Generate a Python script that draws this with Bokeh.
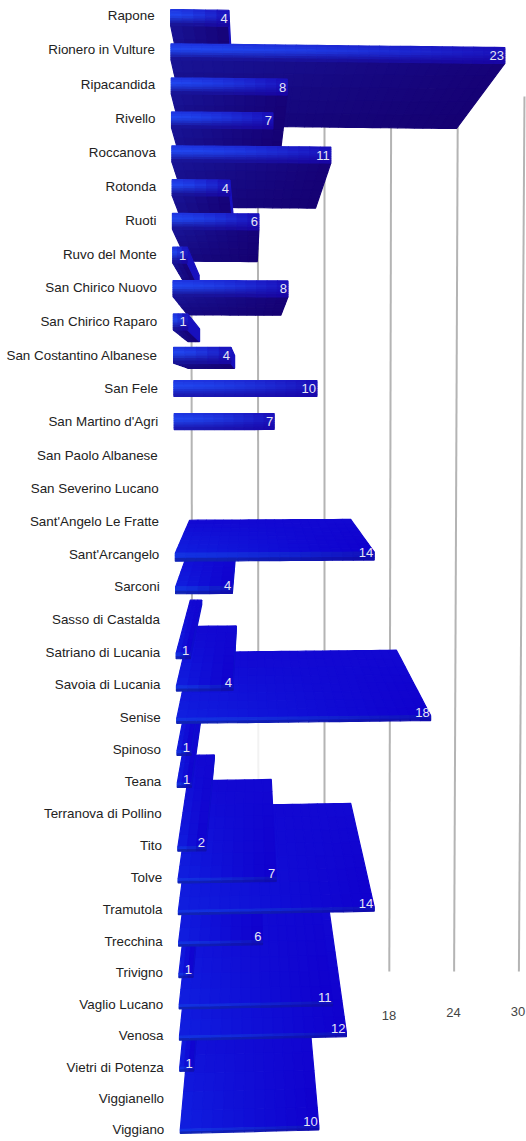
import numpy as np
from bokeh.plotting import figure
from bokeh.models import Range1d
from bokeh.core.properties import value
from bokeh.embed import file_html
from bokeh.resources import INLINE

categories = ["Rapone","Rionero in Vulture","Ripacandida","Rivello","Roccanova","Rotonda","Ruoti",
 "Ruvo del Monte","San Chirico Nuovo","San Chirico Raparo","San Costantino Albanese","San Fele",
 "San Martino d'Agri","San Paolo Albanese","San Severino Lucano","Sant'Angelo Le Fratte",
 "Sant'Arcangelo","Sarconi","Sasso di Castalda","Satriano di Lucania","Savoia di Lucania","Senise",
 "Spinoso","Teana","Terranova di Pollino","Tito","Tolve","Tramutola","Trecchina","Trivigno",
 "Vaglio Lucano","Venosa","Vietri di Potenza","Viggianello","Viggiano"]
values = [4,23,8,7,11,4,6,1,8,1,4,10,7,0,0,0,14,4,0,1,4,18,1,1,0,2,7,14,6,1,11,12,1,0,10]
grid_ticks = [0,6,12,18,24,30]
tick_labels = ["18","24","30"]

W, H = 526, 1141
VX, VY = 250.0, 388.0
SX, SY = 0.81, 0.80

def row_y(i):
    return 15 + 34.456*i - 0.0498*i*i
def bar_center(y):
    return y + (388 - y)*0.0055
def x_left(y):
    return 170 + y*0.0087
def k_val(y):
    return 14.55 - 0.7*y/1130
def front_h(y):
    return 16.0 if y < 430 else 4 + 12*np.exp(-(y-430)/110)
def tilt(x, x0, y):
    return (388 - y)*(x - x0)/30000
def back(pt):
    return (VX + SX*(pt[0]-VX), VY + SY*(pt[1]-VY))

def mix(a, b, t):
    t = min(1, max(0, t))
    return tuple(a[j] + (b[j]-a[j])*t for j in range(3))
def hexc(c):
    return "#%02x%02x%02x" % tuple(int(round(x)) for x in c)

def front_col(u, v, y):
    if y < 500:
        if v < .4:
            c = mix((30,50,222), (32,72,240), v/.4)
        else:
            c = mix((32,72,240), (24,14,140) if y < 380 else (26,20,170), (v-.4)/.6)
        return mix(c, (24,0,170), (u**1.6)*.75)
    c = mix((18,50,226), (14,24,150), max(0,(v-.6)/.4))
    return mix(c, (16,0,170), (u**1.4)*.7)
def under_col(u, v):
    return mix(mix((24,20,150), (22,2,120), u), (20,0,110), v*.6)
def top_col(u, v, y):
    base = mix((16,32,224), (16,0,205), u**.9)
    return mix(base, (18,8,210), 1-v)

grid_xs, grid_ys = [], []
for t in grid_ticks:
    xb = 324 + (t-12)*(10.8 if t > 12 else 11.0)
    xt = 324 + (t-12)*11.11
    grid_xs.append([xt, xb]); grid_ys.append([96, 971])

p = figure(width=W, height=H, x_range=Range1d(0, W), y_range=Range1d(H, 0),
           output_backend="svg", toolbar_location=None, min_border=0,
           outline_line_color=None, background_fill_color="white")
p.xaxis.visible = False
p.yaxis.visible = False
p.grid.visible = False

p.multi_line(grid_xs, grid_ys, line_color="#b4b4b4", line_width=2)
# soft smudge over the gridline
p.ellipse([258],[752],width=70,height=75,color="white",alpha=.82)

tl_x = [324+(float(s)-12)*10.75 for s in tick_labels]
p.text(tl_x, [1015,1012,1011], text=tick_labels, text_font=value("Liberation Sans"), text_font_size="13px",
       text_color="#444444", text_align="center", text_baseline="middle")

def cells(P, nx, ny, colf):
    """P = TL,TR,BR,BL quad; slice it into shaded cells."""
    tl,tr,br,bl = [np.array(q,float) for q in P]
    xs, ys, cs = [], [], []
    for a in range(nx):
        for b in range(ny):
            u0,u1 = a/nx,(a+1)/nx
            v0,v1 = b/ny,(b+1)/ny
            f = lambda u,v: (1-v)*((1-u)*tl+u*tr)+v*((1-u)*bl+u*br)
            q = [f(u0,v0),f(u1,v0),f(u1,v1),f(u0,v1)]
            xs.append([r[0] for r in q]); ys.append([r[1] for r in q])
            cs.append(hexc(colf((u0+u1)/2,(v0+v1)/2)))
    return xs, ys, cs

order = sorted(range(len(values)), key=lambda i: -abs(row_y(i)-VY))
lab_x, lab_y, lab_t = [], [], []
for i in order:
    v = values[i]
    if v == 0:
        continue
    y = row_y(i); c = bar_center(y)
    x0 = x_left(c); x1 = x0 + k_val(c)*v
    fb = c + 8; ft = fb - front_h(c)
    dy = tilt(x1, x0, c)
    FTL,FTR,FBR,FBL = (x0,ft),(x1,ft+dy),(x1,fb+dy),(x0,fb)
    BTL,BTR,BBR,BBL = back(FTL),back(FTR),back(FBR),back(FBL)
    nx = max(3, min(32, int((x1-x0)/10)))
    X,Y,C = [],[],[]
    if c < VY - 6:
        a = cells((FBL,FBR,BBR,BBL), nx, 5, under_col)
        X+=a[0];Y+=a[1];C+=a[2]
    if c > VY + 60:
        a = cells((BTL,BTR,FTR,FTL), nx, 8, lambda u,w,cc=c: top_col(u,w,cc))
        X+=a[0];Y+=a[1];C+=a[2]
    if x1 < VX and abs(c - VY) > 6:
        col = (24,16,190) if c < VY else (14,12,205)
        X.append([FTR[0],BTR[0],BBR[0],FBR[0]]); Y.append([FTR[1],BTR[1],BBR[1],FBR[1]]); C.append(hexc(col))
    a = cells((FTL,FTR,FBR,FBL), nx, 7 if c < 500 else 3, lambda u,w,cc=c: front_col(u,w,cc))
    X+=a[0];Y+=a[1];C+=a[2]
    p.patches(X, Y, fill_color=C, line_color=C, line_width=1.2)
    lab_x.append(x1-1); lab_y.append(c+dy); lab_t.append(str(v))

p.text(lab_x, lab_y, text=lab_t, text_font=value("Liberation Sans"), text_font_size="13px",
       text_color="#e6e6f4", text_align="right", text_baseline="middle")

cat_x = [154 + row_y(i)*0.0087 for i in range(len(categories))]
cat_y = [row_y(i) for i in range(len(categories))]
p.text(cat_x, cat_y, text=categories, text_font=value("Liberation Sans"), text_font_size="13.4px",
       text_color="#222222", text_align="right", text_baseline="middle")

open("out.html", "w").write(file_html(p, INLINE))
